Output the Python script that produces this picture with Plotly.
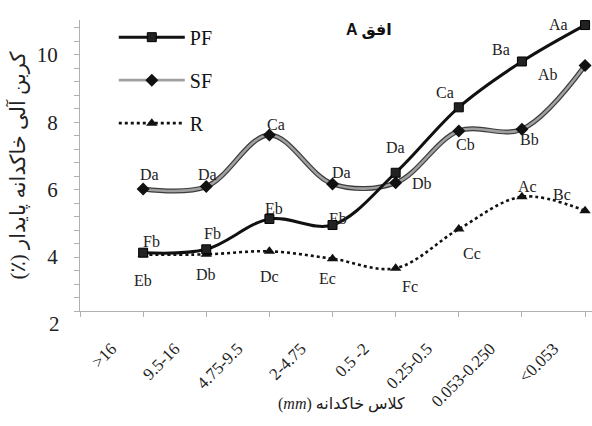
import plotly.graph_objects as go

# ---------------- data ----------------
categories = [">16", "9.5-16", "4.75-9.5", "2-4.75", "0.5 -2", "0.25-0.5", "0.053-0.250", "<0.053"]
point_pos = [1, 2, 3, 4, 5, 6, 7, 8]          # plotted positions of the 8 points
label_pos = [0.5, 1.5, 2.5, 3.5, 4.5, 5.5, 6.5, 7.5]  # category label positions

pf = [4.13, 4.23, 5.13, 4.95, 6.50, 8.44, 9.80, 10.88]
sf = [6.02, 6.09, 7.62, 6.17, 6.20, 7.74, 7.79, 9.68]
r = [4.07, 4.08, 4.17, 3.95, 3.67, 4.83, 5.79, 5.37]

pf_labels = ["Fb", "Fb", "Eb", "Eb", "Da", "Ca", "Ba", "Aa"]
sf_labels = ["Da", "Da", "Ca", "Da", "Db", "Cb", "Bb", "Ab"]
r_labels = ["Eb", "Db", "Dc", "Ec", "Fc", "Cc", "Ac", "Bc"]

y_ticks = [4, 6, 8, 10]

# label offsets in pixels (dx right, dy down) -- styling only
pf_off = [(8, -11), (6, -16), (5, -10), (5, -7), (0, -25), (-14, -15), (-21, -12), (-27, -1)]
sf_off = [(6, -14), (1, -12), (7, -10), (9, -11), (26, 1), (7, 14), (8, 10), (-37, 9)]
r_off = [(0, 26), (0, 20), (0, 25), (-5, 20), (14, 18), (13, 24), (6, -10), (-23, -16)]

SERIF = "Liberation Serif"
SERIF_AR = "Liberation Serif, DejaVu Sans"

W, H = 592, 426
ml, mr, mt, mb = 80, 0, 20, 115
pw, ph = W - ml - mr, H - mt - mb
YMIN, YMAX = 2.40, 11.03

fig = go.Figure()

# SF: outlined grey line (outline first)
fig.add_trace(go.Scatter(
    x=point_pos, y=sf, mode="lines", line=dict(color="#3c3c3c", width=5, shape="spline"),
    showlegend=False, hoverinfo="skip", legendgroup="sf"))
fig.add_trace(go.Scatter(
    x=point_pos, y=sf, mode="lines+markers", name="SF", legendgroup="sf", legendrank=2,
    line=dict(color="#a0a0a0", width=2.6, shape="spline"),
    marker=dict(symbol="diamond", size=10, color="#111111")))
fig.add_trace(go.Scatter(
    x=point_pos, y=r, mode="lines+markers", name="R", legendgroup="r", legendrank=3,
    line=dict(color="#111111", width=2.6, dash="dot", shape="spline"),
    marker=dict(symbol="triangle-up", size=10, color="#111111")))
fig.add_trace(go.Scatter(
    x=point_pos, y=pf, mode="lines+markers", name="PF", legendgroup="pf", legendrank=1,
    line=dict(color="#111111", width=3, shape="spline"),
    marker=dict(symbol="square", size=9, color="#222222", line=dict(color="#000", width=1))))

annotations = []
for vals, labs, offs in ((pf, pf_labels, pf_off), (sf, sf_labels, sf_off), (r, r_labels, r_off)):
    for xv, yv, t, (dx, dy) in zip(point_pos, vals, labs, offs):
        annotations.append(dict(x=xv, y=yv, xref="x", yref="y", text=t, showarrow=False,
                                xshift=dx, yshift=-dy,
                                font=dict(family=SERIF, size=16, color="#222222")))

# chart title (pixel position converted to paper)
annotations.append(dict(x=(369 - ml) / pw, y=(H - mb - 30) / ph, text="<b>A افق</b>",
                        showarrow=False, xref="paper", yref="paper",
                        xanchor="center", yanchor="middle",
                        font=dict(family="Liberation Sans, DejaVu Sans", size=16, color="#111")))
# value label "2" sits below the axis crossing
annotations.append(dict(x=(62 - ml) / pw, y=(2 - YMIN) / (YMAX - YMIN), xref="paper", yref="paper",
                        text="2", showarrow=False, xanchor="right", yanchor="middle",
                        font=dict(family=SERIF, size=21, color="#222")))
# x-axis title (placed between the rotated category labels, as in the original)
annotations.append(dict(x=(341 - ml) / pw, y=-(404 - (H - mb)) / ph, xref="paper", yref="paper",
                        text="(<i>mm</i>) کلاس خاکدانه", showarrow=False,
                        xanchor="center", yanchor="middle",
                        font=dict(family=SERIF_AR, size=16, color="#222")))

fig.update_layout(
    width=W, height=H,
    margin=dict(l=ml, r=mr, t=mt, b=mb, autoexpand=False),
    paper_bgcolor="white", plot_bgcolor="white",
    showlegend=True,
    legend=dict(x=0.066, y=1.008, xanchor="left", yanchor="top", bgcolor="rgba(0,0,0,0)",
                font=dict(family=SERIF, size=20, color="#111"), itemwidth=66,
                tracegroupgap=14, traceorder="grouped"),
    annotations=annotations,
    xaxis=dict(range=[0, 8.11], tickmode="array", tickvals=label_pos, ticktext=categories,
               tickangle=-45, ticks="", showgrid=False, zeroline=False, automargin=False,
               showline=True, linecolor="#b0b0b0", linewidth=1.2,
               tickfont=dict(family=SERIF, size=17, color="#222"),
               ticklabelstandoff=20,
               minor=dict(tickmode="array", tickvals=[0, 1, 2, 3, 4, 5, 6, 7, 8],
                          ticks="outside", ticklen=5, tickcolor="#b0b0b0", showgrid=False)),
    yaxis=dict(range=[YMIN, YMAX], tickmode="array", tickvals=y_ticks,
               ticks="outside", ticklen=5, tickcolor="#b0b0b0", showgrid=False, zeroline=False,
               automargin=False,
               showline=True, linecolor="#b0b0b0", linewidth=1.2,
               tickfont=dict(family=SERIF, size=21, color="#222"),
               ticklabelstandoff=12,
               minor=dict(dtick=0.4, tick0=0, ticks="outside", ticklen=5, tickcolor="#b0b0b0",
                          showgrid=False),
               title=dict(text="(٪) کربن آلی خاکدانه پایدار", standoff=5,
                          font=dict(family=SERIF_AR, size=21, color="#222"))),
)

# remove the browser's default page margin so the figure fills the window
fig.write_html("out.html", config={"displayModeBar": False},
               post_script="document.body.style.margin='0';")
